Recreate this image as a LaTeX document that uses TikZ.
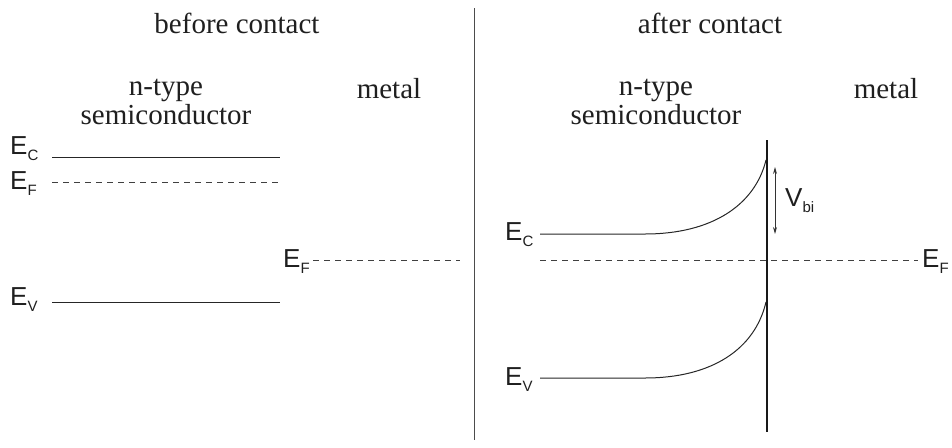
\documentclass[tikz,border=0pt]{standalone}
\usepackage{fontspec}
\setmainfont{Liberation Serif}
\newfontfamily\lsans{Liberation Sans}
\newcommand{\sbs}[1]{{\fontsize{15}{15}\selectfont\raisebox{-6pt}{#1}}}
\usetikzlibrary{arrows.meta}
\begin{document}
\begin{tikzpicture}[x=1pt,y=-1pt,
  ttl/.style={font=\fontsize{29}{29}\selectfont, inner sep=0pt, text=black!88},
  lbl/.style={font=\lsans\fontsize{26}{26}\selectfont, inner sep=0pt, text=black!88},
  level/.style={line width=1pt, black!85},
  fermi/.style={line width=0.9pt, black!75, dash pattern=on 6pt off 5pt},
  wall/.style={line width=2.4pt, black!90}]
\useasboundingbox (0,0) rectangle (952,447);
% divider
\coordinate (dtop) at (474,8);
\coordinate (dbot) at (474,440);
\draw[black!70, line width=0.8pt] (dtop) -- (dbot);
% titles
\node[ttl] (t1) at (237,23) {before contact};
\node[ttl] (t2) at (710,23) {after contact};
\node[ttl, align=center] (ns1) at (166,102) {n-type\\semiconductor};
\node[ttl] (m1) at (389,89) {metal};
\node[ttl, align=center] (ns2) at (656,102) {n-type\\semiconductor};
\node[ttl] (m2) at (886,89) {metal};
% left levels
\node[lbl, anchor=west] (ec1) at (10,149) {E\sbs{C}};
\node[lbl, anchor=west] (ef1) at (10,184) {E\sbs{F}};
\node[lbl, anchor=west] (ev1) at (10,300) {E\sbs{V}};
\coordinate (ec1a) at (52,157); \coordinate (ec1b) at (280,157);
\coordinate (ef1a) at (52,182); \coordinate (ef1b) at (280,182);
\coordinate (ev1a) at (52,302); \coordinate (ev1b) at (280,302);
\draw[level] (ec1a) -- (ec1b);
\draw[fermi] (ef1a) -- (ef1b);
\draw[level] (ev1a) -- (ev1b);
% metal Fermi level
\node[lbl, anchor=west] (efm) at (283,262) {E\sbs{F}};
\coordinate (efma) at (313,260); \coordinate (efmb) at (460,260);
\draw[fermi] (efma) -- (efmb);
% right side
\coordinate (wtop) at (767,140); \coordinate (wbot) at (767,432);
\node[lbl, anchor=west] (ec2) at (505,235) {E\sbs{C}};
\node[lbl, anchor=west] (ev2) at (505,380) {E\sbs{V}};
\node[lbl, anchor=west] (ef2) at (922,262) {E\sbs{F}};
\coordinate (ec2a) at (540,234); \coordinate (ec2b) at (645,234); \coordinate (ec2c) at (766,160);
\coordinate (ev2a) at (540,378); \coordinate (ev2b) at (645,378); \coordinate (ev2c) at (766,302);
\draw[level] (ec2a) -- (ec2b) .. controls (712,234) and (755,205) .. (ec2c);
\draw[level] (ev2a) -- (ev2b) .. controls (712,378) and (755,349) .. (ev2c);
\coordinate (ef2a) at (540,260); \coordinate (ef2b) at (918,260);
\draw[fermi] (ef2a) -- (ef2b);
\draw[wall] (wtop) -- (wbot);
% V_bi arrow
\coordinate (va) at (775,167); \coordinate (vb) at (775,234);
\draw[black!80, line width=0.9pt, {Stealth[length=7pt,width=4pt]}-{Stealth[length=7pt,width=4pt]}] (va) -- (vb);
\node[lbl, anchor=west] (vbi) at (785,201) {V\sbs{bi}};
\end{tikzpicture}
\end{document}
